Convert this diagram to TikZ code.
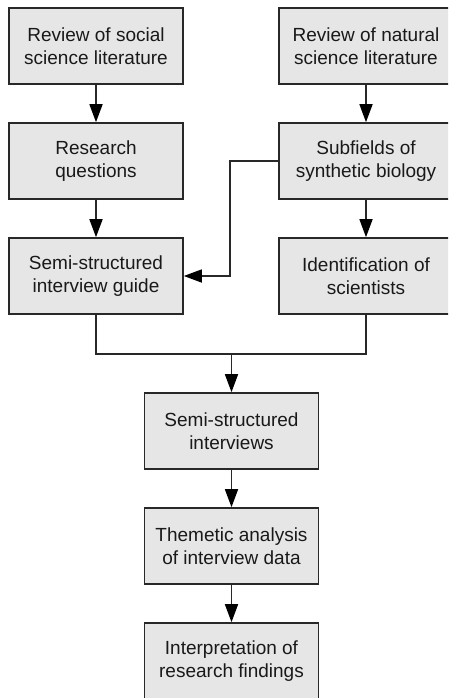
\documentclass[tikz,border=0pt]{standalone}
\usepackage{fontspec}
\setmainfont{Liberation Sans}
\usetikzlibrary{arrows.meta}
\definecolor{boxfill}{RGB}{230,230,230}
\definecolor{boxline}{RGB}{40,40,40}
\tikzset{
  stepbox/.style={draw=boxline, fill=boxfill, line width=1.6pt,
    minimum width=174pt, minimum height=76pt, align=center,
    text=black!90, font=\fontsize{19}{23}\selectfont},
  arr/.style={draw=boxline, line width=1.5pt, -{Triangle[width=13pt,length=18pt,color=black]}},
  link/.style={draw=boxline, line width=1.5pt}
}

\begin{document}
\begin{tikzpicture}[x=1pt, y=-1pt]
            \clip (0,0) rectangle (448,698);
            % left column
            \node[stepbox] (social) at (96, 46) {Review of social\\science literature};
            \node[stepbox] (questions) at (96, 161) {Research\\questions};
            \node[stepbox] (guide) at (96, 276) {Semi-structured\\interview guide};
            % right column
            \node[stepbox] (natural) at (366, 46) {Review of natural\\science literature};
            \node[stepbox] (subfields) at (366, 161) {Subfields of\\synthetic biology};
            \node[stepbox] (ident) at (366, 276) {Identification of\\scientists};
            % middle column
            \node[stepbox] (interviews) at (231.5, 431) {Semi-structured\\interviews};
            \node[stepbox] (analysis) at (231.5, 546) {Themetic analysis\\of interview data};
            \node[stepbox] (findings) at (231.5, 661) {Interpretation of\\research findings};
            \coordinate (merge) at (231.5, 354);

            \draw[arr] (social) -- (questions);
            \draw[arr] (questions) -- (guide);
            \draw[arr] (natural) -- (subfields);
            \draw[arr] (subfields) -- (ident);
            \draw[arr] (subfields.west) -- ++(-48,0) |- (guide.east);
            \draw[link] (guide.south) |- (merge) -| (ident.south);
            \draw[arr] (merge) -- (interviews);
            \draw[arr] (interviews) -- (analysis);
            \draw[arr] (analysis) -- (findings);
        \end{tikzpicture}
\end{document}
